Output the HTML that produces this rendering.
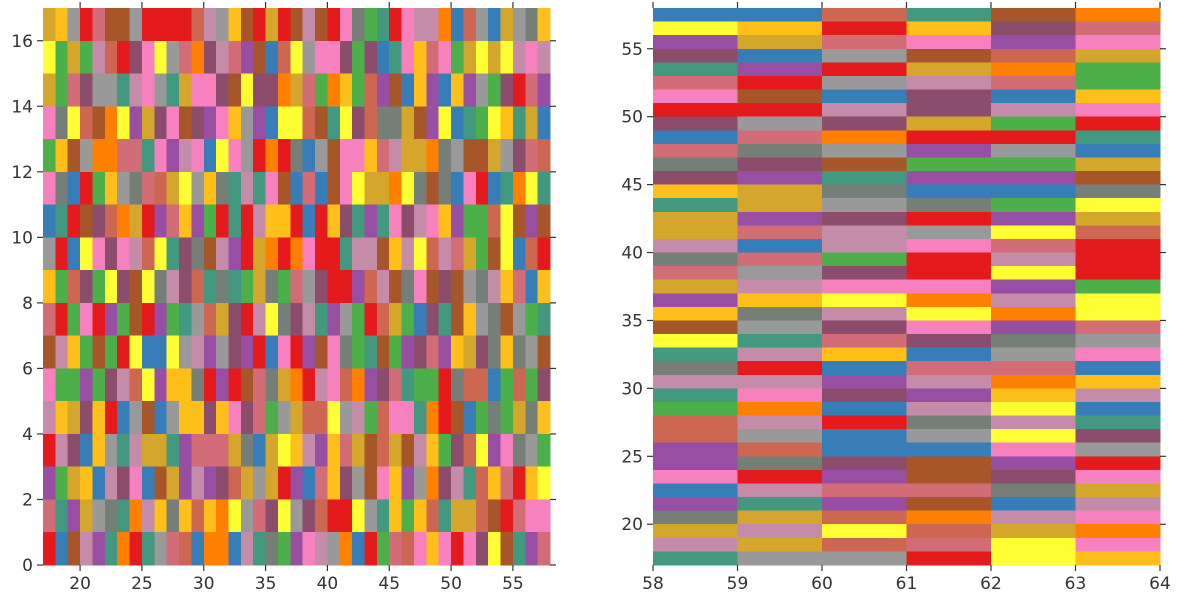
<!DOCTYPE html>
<html><head><meta charset="utf-8"><style>
html,body{margin:0;padding:0;background:#fff;}
svg{display:block;font-family:"DejaVu Sans","Liberation Sans",sans-serif;}
</style></head>
<body>
<svg id="chart" width="1178" height="601" viewBox="0 0 1178 601">
<g id="left"></g>
<g id="right"></g>
</svg>
<script>
const palette = {R:'#e41a1c',B:'#377eb8',G:'#4daf4a',P:'#984ea3',O:'#ff7f00',Y:'#ffff33',N:'#a65628',K:'#f781bf',A:'#999999',D:'#d4a62c',S:'#d26d77',C:'#cd6751',M:'#c58ca9',W:'#8c4d6c',T:'#439880',H:'#757f77',F:'#ffbf1b'};
// left panel: x 17..58, rows y=16 (top) down to 0
const leftRows = [
"DFARSNNARRRRCMAFNRDRNMNRKHGTRKMMOBCABDAHF",
"YGDGMCRWKYASOWMSPNBCYAKKWGWBTKFSKGDYDYMKM",
"DGSWAATMKATDKKWNYWWODSGOFGCPNBFPBFPAGWRSP",
"KHYCNOYPDWKNWPKFAPBYYCNTYWCHHDNPYBTGYFTDB",
"GFNAOOSSTKPMKBYKARORHBANKKFSMDDOHANNDAWSC",
"KHBRGFAHSCDYAFHTMTKNBSBNKYDDOYHNHBKRBTOYT",
"BTRNWCODRPSFPGRTRMFFRBRFWTPTKWMKFPGGCYNPN",
"ARBYKWKMCYTWHNMPRDOROKRRTMMNFMYCMSDGNYBCR",
"FGCWGYWNYHMWCTHTGDHGSAWRRPCMNHKNWNAHMFSBF",
"SRGKRPGNRPGTACDWRMYHWMTPAGRCDGBWTNFAHNAGT",
"NMFGNGRYBBYAMPAWPRBKRPNKHGTNGPWSPFDWHFHAN",
"KGGPGWMCYPFFHRPRNSHDORMKCOPWSTGGRHCCBGCGW",
"MFDWFRBANBAFFWFKWSGADCCYAMGCKKTORNBGHGDHF",
"RMWBFATMDDTPSSSDHBDYFMPFSDNCDNMFGWCYPKHAG",
"PGDFBMWKBNDPMPWCDADRPBSFWANKFPAOWMTCFSRFY",
"STPDAHTOMFHFCFOYASWYAWCRRYATFGFCTDDCNRSKK",
"RBNMPTORTASCBOOBMTHGPKMAOBRGSCKFKRKWYNTPS"
];
const leftXTicks = [20,25,30,35,40,45,50,55];
const leftYTicks = [0,2,4,6,8,10,12,14,16];
// right panel: x 58..64, rows y=57 (top) down to 17
const rightRows = ["BBCTNO","YFRFWS","PDSKPK","WBANCD","TPRDOG","SRAMSG","KNBWBF","RRMWMK","WAWDGR","BSORRT","SHAPAB","HWNGGD","WPTPPN","FDHBBH","TDAHGY","DPWRPD","DSMAYC","MBMKSR","HSGRMR","SAWRYR","DMKKPG","PFYOMY","FHMYOY","NAWKPS","YTSWHA","TMFBAK","HRBSSB","MMPMOF","TKWPFM","GOBMYB","CMRHMT","CABAYW","PCBBKA","PHWNPR","KRPNWK","BMSSHD","PTPNBM","HDCOMK","DMYCDO","MDCSYK","TAARYF"];
const rightXTicks = [58,59,60,61,62,63,64];
const rightYTicks = [20,25,30,35,40,45,50,55];

const NS='http://www.w3.org/2000/svg';
function mk(parent,tag,attrs){const e=document.createElementNS(NS,tag);for(const k in attrs)e.setAttribute(k,attrs[k]);parent.appendChild(e);return e;}

function panel(g,rows,x0,x1,y0,y1,px0,px1,py0,py1,xt,yt,name){
  const sx=v=>px0+(v-x0)*(px1-px0)/(x1-x0);
  const sy=v=>py1-(v-y0)*(py1-py0)/(y1-y0);
  const cells=mk(g,'g',{'shape-rendering':'crispEdges'});
  
  
  const top=y1-1;
  rows.forEach((row,ri)=>{
    const yv=top-ri;
    for(let ci=0;ci<row.length;ci++){
      const xv=x0+ci;
      const r=mk(cells,'rect',{x:sx(xv),y:sy(yv+1),width:sx(xv+1)-sx(xv)+0.5,height:sy(yv)-sy(yv+1)+0.5,fill:palette[row[ci]]});
      
      
    }
  });
  const ax=mk(g,'g',{stroke:'#333',"stroke-width":1.2});
  
  
  xt.forEach(v=>{
    const x=sx(v);
    mk(ax,'line',{x1:x,x2:x,y1:py1,y2:py1+6});
    mk(ax,'line',{x1:x,x2:x,y1:py0,y2:py0-6});
    const t=mk(g,'text',{x:x,y:py1+24,'text-anchor':'middle','font-size':17,fill:'#333'});
    t.textContent=v;
    
    
  });
  yt.forEach(v=>{
    const y=sy(v);
    mk(ax,'line',{x1:px0,x2:px0-6,y1:y,y2:y});
    mk(ax,'line',{x1:px1,x2:px1+6,y1:y,y2:y});
    const t=mk(g,'text',{x:px0-10,y:y+6,'text-anchor':'end','font-size':17,fill:'#333'});
    t.textContent=v;
    
    
  });
}
panel(document.getElementById('left'),leftRows,17,58,0,17,43,550,8,565,leftXTicks,leftYTicks,'left-panel');
panel(document.getElementById('right'),rightRows,58,64,17,58,653,1160,8,565,rightXTicks,rightYTicks,'right-panel');
</script>
</body></html>
